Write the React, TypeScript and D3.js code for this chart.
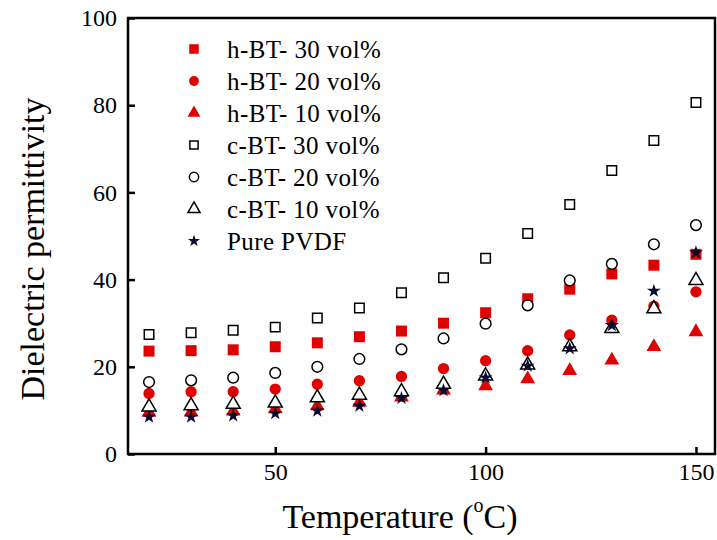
import React, { useEffect, useRef } from "react";
import {
  select,
  scaleLinear,
  axisBottom,
  axisLeft,
  symbol,
  symbolSquare,
  symbolCircle,
  symbolTriangle,
  symbolStar,
} from "d3";

const temps = [20, 30, 40, 50, 60, 70, 80, 90, 100, 110, 120, 130, 140, 150];

const hBT30 = [23.6, 23.7, 23.9, 24.6, 25.5, 26.9, 28.2, 30.0, 32.4, 35.6, 37.8, 41.3, 43.3, 45.8];
const hBT20 = [13.9, 14.3, 14.3, 14.9, 16.0, 16.8, 17.8, 19.6, 21.4, 23.7, 27.3, 30.7, 33.9, 37.2];
const hBT10 = [9.5, 9.6, 9.8, 10.3, 11.0, 11.8, 13.0, 14.6, 15.6, 17.2, 19.1, 21.5, 24.6, 28.0];
const cBT30 = [27.4, 27.8, 28.4, 29.1, 31.2, 33.5, 37.0, 40.4, 44.9, 50.6, 57.2, 65.0, 71.9, 80.6];
const cBT20 = [16.5, 16.9, 17.5, 18.6, 20.0, 21.8, 24.0, 26.5, 29.9, 34.1, 39.8, 43.6, 48.1, 52.5];
const cBT10 = [10.8, 11.1, 11.4, 11.7, 12.9, 13.5, 14.3, 16.0, 17.9, 20.4, 24.6, 28.8, 33.3, 39.8];
const pvdf = [8.5, 8.5, 8.8, 9.3, 9.9, 11.0, 12.8, 14.6, 17.5, 20.2, 24.2, 29.5, 37.4, 46.2];

const xTicks = [50, 100, 150];
const yTicks = [0, 20, 40, 60, 80, 100];

const RED = "#e00000";

// drawing order: filled (h-BT) first, open (c-BT) over them, stars on top
const series = [
  { name: "h-BT- 30 vol%", values: hBT30, shape: symbolSquare, size: 121, fill: RED, stroke: "none" },
  { name: "h-BT- 20 vol%", values: hBT20, shape: symbolCircle, size: 100, fill: RED, stroke: "none" },
  { name: "h-BT- 10 vol%", values: hBT10, shape: symbolTriangle, size: 95, fill: RED, stroke: "none" },
  { name: "c-BT- 30 vol%", values: cBT30, shape: symbolSquare, size: 90, fill: "#fff", stroke: "#000" },
  { name: "c-BT- 20 vol%", values: cBT20, shape: symbolCircle, size: 90, fill: "#fff", stroke: "#000" },
  { name: "c-BT- 10 vol%", values: cBT10, shape: symbolTriangle, size: 85, fill: "#fff", stroke: "#000" },
  { name: "Pure PVDF", values: pvdf, shape: symbolStar, size: 60, fill: "#0a0a2e", stroke: "none" },
];

const width = 717;
const height = 540;
const FONT = "'Liberation Serif', 'Times New Roman', serif";

function App() {
  const svgRef = useRef(null);

  useEffect(() => {
    const svg = select(svgRef.current);

    const xScale = scaleLinear().domain([15, 155]).range([128, 717]);
    const yScale = scaleLinear().domain([0, 100]).range([454, 18]);
    const left = xScale(15);
    const right = 715;
    const top = yScale(100);
    const bottom = yScale(0);

    const xAxis = axisBottom(xScale)
      .tickValues(xTicks)
      .tickSizeInner(-7)
      .tickSizeOuter(0)
      .tickPadding(9)
      .tickFormat((d) => String(d));
    const yAxis = axisLeft(yScale)
      .tickValues(yTicks)
      .tickSizeInner(-7)
      .tickSizeOuter(0)
      .tickPadding(11)
      .tickFormat((d) => String(d));

    const styleAxis = (g) => {
      g.attr("font-family", FONT).attr("font-size", 24);
      g.select(".domain").remove();
      g.selectAll("line").attr("stroke", "#000").attr("stroke-width", 2.5);
      g.selectAll("text").style("font-family", FONT).attr("fill", "#000");
    };

    svg
      .select(".x-axis")
      .attr("transform", `translate(0,${bottom})`)
      .call(xAxis)
      .call(styleAxis);

    svg
      .select(".y-axis")
      .attr("transform", `translate(${left},0)`)
      .call(yAxis)
      .call(styleAxis);

    svg
      .select(".frame")
      .attr("x", left)
      .attr("y", top)
      .attr("width", right - left)
      .attr("height", bottom - top)
      .attr("fill", "none")
      .attr("stroke", "#000")
      .attr("stroke-width", 2.5);

    svg
      .select(".points")
      .selectAll("g")
      .data(series)
      .join("g")
      .each(function (s) {
        select(this)
          .selectAll("path")
          .data(s.values)
          .join("path")
          .attr("d", symbol(s.shape, s.size)())
          .attr("transform", (v, i) => `translate(${xScale(temps[i])},${yScale(v)})`)
          .attr("fill", s.fill)
          .attr("stroke", s.stroke)
          .attr("stroke-width", 1.5);
      });

    const legend = svg
      .select(".legend")
      .selectAll("g")
      .data(series)
      .join("g")
      .attr("transform", (d, i) => `translate(194,${49 + i * 32})`);
    legend
      .selectAll("path")
      .data((d) => [d])
      .join("path")
      .attr("d", (d) => symbol(d.shape, d.size * 0.75)())
      .attr("fill", (d) => d.fill)
      .attr("stroke", (d) => d.stroke)
      .attr("stroke-width", 1.5);
    legend
      .selectAll("text")
      .data((d) => [d])
      .join("text")
      .attr("x", 33)
      .attr("dy", "0.35em")
      .style("font-family", FONT)
      .attr("font-size", 25)
      .attr("letter-spacing", 0.4)
      .attr("fill", "#000")
      .text((d) => d.name);
  }, []);

  return (
    <div style={{ position: "absolute", left: 0, top: 0 }}>
      <svg ref={svgRef} width={width} height={height} style={{ display: "block", background: "#fff" }}>
        <g className="points"></g>
        <rect className="frame"></rect>
        <g className="x-axis"></g>
        <g className="y-axis"></g>
        <g className="legend"></g>
        <text
          transform="translate(44,249) rotate(-90)"
          textAnchor="middle"
          style={{ fontFamily: FONT }}
          fontSize={34}
          fill="#000"
        >
          Dielectric permittivity
        </text>
        <text
          x={400}
          y={528}
          textAnchor="middle"
          style={{ fontFamily: FONT }}
          fontSize={34}
          fill="#000"
        >
          Temperature (
          <tspan fontSize={20} dy={-16}>o</tspan>
          <tspan dy={16}>C)</tspan>
        </text>
      </svg>
    </div>
  );
}

export default App;
